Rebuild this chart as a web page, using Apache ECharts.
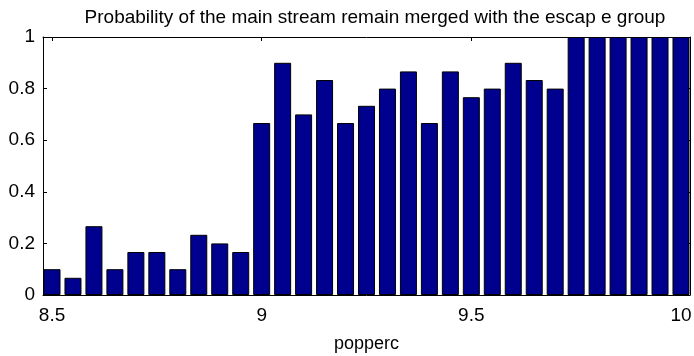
<!DOCTYPE html>
<html>
<head>
<meta charset="utf-8">
<script src="https://cdn.jsdelivr.net/npm/echarts@6/dist/echarts.min.js"></script>
<style>html,body{margin:0;padding:0;background:#fff}#c{width:694px;height:356px}</style>
</head>
<body>
<div id="c"></div>
<script>
const titleText = 'Probability of the main stream remain merged with the escap e group';
const xName = 'popperc';
const xPositions = [8.5,8.55,8.6,8.65,8.7,8.75,8.8,8.85,8.9,8.95,9.0,9.05,9.1,9.15,9.2,9.25,9.3,9.35,9.4,9.45,9.5,9.55,9.6,9.65,9.7,9.75,9.8,9.85,9.9,9.95,10.0];
const probValues = [0.1,0.0667,0.2667,0.1,0.1667,0.1667,0.1,0.2333,0.2,0.1667,0.6667,0.9,0.7,0.8333,0.6667,0.7333,0.8,0.8667,0.6667,0.8667,0.7667,0.8,0.9,0.8333,0.8,1,1,1,1,1,1];
const xTicks = [8.5,9,9.5,10];
const yTicks = [0,0.2,0.4,0.6,0.8,1];

const font = 'Liberation Sans, Arial, sans-serif';
const fmtY = v => String(Math.round(v*10)/10);
const chart = echarts.init(document.getElementById('c'), null, {renderer:'canvas'});
const xCommon = {
  type:'value', min:8.4785, max:10.0215,
  splitLine:{show:false},
  axisLine:{show:true, onZero:false, lineStyle:{color:'#000', width:1}},
  axisTick:{show:true, inside:true, length:4, customValues:xTicks, lineStyle:{color:'#000'}},
};
const yCommon = {
  type:'value', min:0, max:1, interval:0.2,
  splitLine:{show:false},
  axisLine:{show:true, lineStyle:{color:'#000', width:1}},
  axisTick:{show:true, inside:true, length:4, lineStyle:{color:'#000'}},
};
chart.setOption({
  backgroundColor:'#fff',
  animation:false,
  title:{text:titleText, left:370, textAlign:'center', top:3,
    textStyle:{fontFamily:font, fontSize:19, fontWeight:'normal', color:'#000'}},
  grid:{left:43, right:4, top:37, bottom:61, containLabel:false, outerBoundsMode:'none'},
  xAxis:[
    Object.assign({}, xCommon, {position:'bottom', name:xName, nameLocation:'middle', nameGap:40,
      nameTextStyle:{fontFamily:font, fontSize:18, color:'#000'},
      axisLabel:{show:true, customValues:xTicks, margin:11, fontFamily:font, fontSize:19, color:'#000',
        formatter:v=>String(v)}}),
    Object.assign({}, xCommon, {position:'top', axisLabel:{show:false}})
  ],
  yAxis:[
    Object.assign({}, yCommon, {position:'left',
      axisLabel:{show:true, margin:8, fontFamily:font, fontSize:19, color:'#000', formatter:fmtY}}),
    Object.assign({}, yCommon, {position:'right', axisLabel:{show:false}})
  ],
  series:[{
    type:'bar', xAxisIndex:0, yAxisIndex:0,
    data: xPositions.map((x,i)=>[x, probValues[i]]),
    barWidth:17,
    itemStyle:{color:'#00008f', borderColor:'#000', borderWidth:1},
    emphasis:{disabled:true}
  }]
});
</script>
</body>
</html>
